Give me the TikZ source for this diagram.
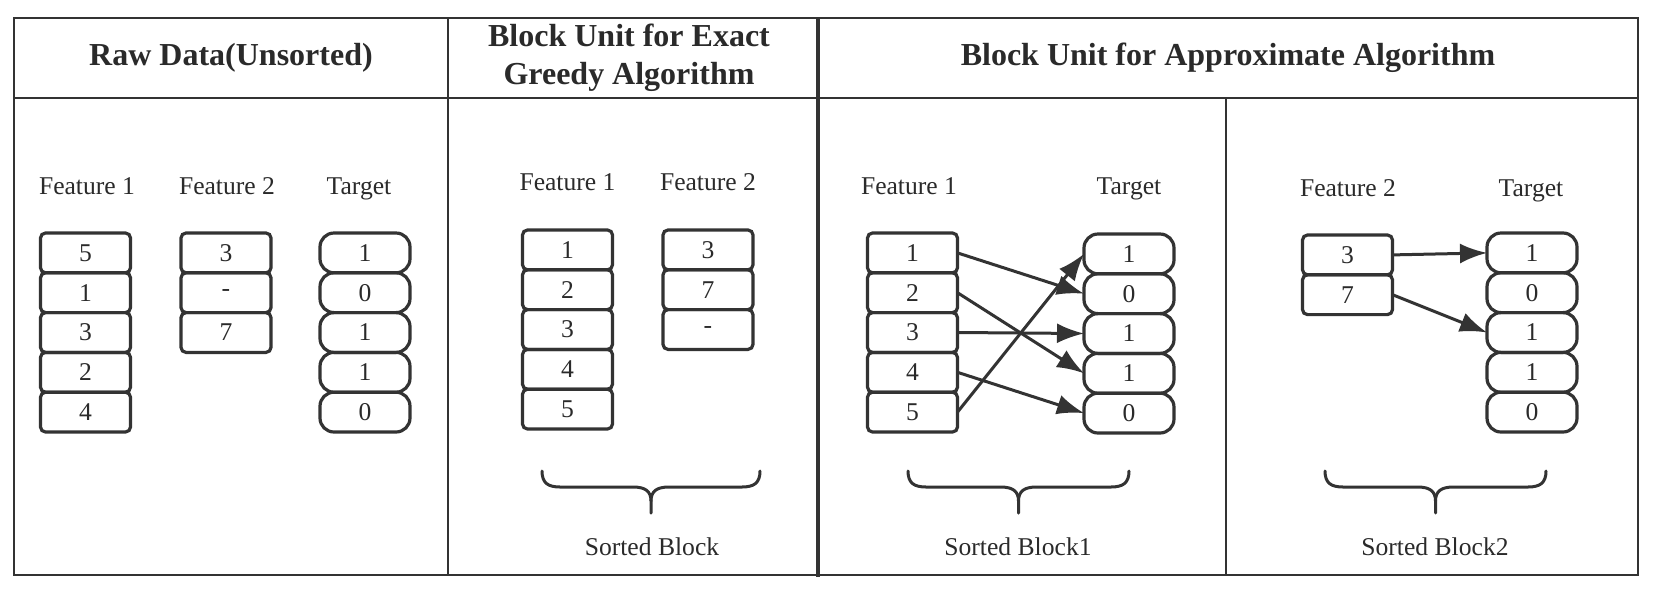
\documentclass[tikz,border=0pt]{standalone}
\usepackage{fontspec}
\setmainfont{Liberation Serif}
\usetikzlibrary{arrows.meta}
\definecolor{ink}{HTML}{333333}
\definecolor{txt}{HTML}{2A2A2A}
\begin{document}
\begin{tikzpicture}[x=0.5pt,y=-0.5pt,
  frame/.style={draw=ink,line width=1.4pt},
  fcell/.style={draw=ink,line width=1.6pt,rounded corners=2.5pt,minimum width=45pt,minimum height=19.9pt,inner sep=0pt,outer sep=0pt,font=\fontsize{12.8}{15}\selectfont,text=txt},
  tcell/.style={fcell,rounded corners=7pt},
  lab/.style={font=\fontsize{12.8}{15}\selectfont,text=txt,inner sep=0pt,anchor=base},
  head/.style={font=\fontsize{16}{19}\selectfont\bfseries,text=txt,align=center,inner sep=0pt},
  conn/.style={draw=ink,line width=1.5pt,-{Latex[length=13.5pt,width=10pt]}},
  bracepath/.style={draw=ink,line width=1.5pt,line cap=round}]
\useasboundingbox (0,0) rectangle (1660,596);
% frame
\draw[frame] (14,18) rectangle (1638,575);
\draw[frame] (14,98) -- (1638,98);
\draw[frame] (448,18) -- (448,575);
\draw[frame,line width=1.8pt] (818,18) -- (818,577);
\draw[frame] (1226,98) -- (1226,575);
% headers
\node[head] (h1) at (231,58) {Raw Data(Unsorted)};
\node[head] (h2) at (629,58) {Block Unit for Exact\\Greedy Algorithm};
\node[head] (h3) at (1228,58) {Block Unit for Approximate Algorithm};
% panel 1
\node[lab] (l1a) at (87,194) {Feature 1};
\node[lab] (l1b) at (227,194) {Feature 2};
\node[lab] (l1c) at (359,194) {Target};
\foreach \v [count=\i] in {5,1,3,2,4}
  \node[fcell] (pa-\i) at (85.5,{252.9+(\i-1)*39.8}) {\v};
\foreach \v [count=\i] in {3,-,7}
  \node[fcell] (pb-\i) at (226,{252.9+(\i-1)*39.8}) {\v};
\foreach \v [count=\i] in {1,0,1,1,0}
  \node[tcell] (pc-\i) at (365,{252.9+(\i-1)*39.8}) {\v};
% panel 2
\node[lab] (l2a) at (567.5,190) {Feature 1};
\node[lab] (l2b) at (708,190) {Feature 2};
\foreach \v [count=\i] in {1,2,3,4,5}
  \node[fcell] (qa-\i) at (567.5,{249.9+(\i-1)*39.8}) {\v};
\foreach \v [count=\i] in {3,7,-}
  \node[fcell] (qb-\i) at (708,{249.9+(\i-1)*39.8}) {\v};
% panel 3
\node[lab] (l3a) at (909,194) {Feature 1};
\node[lab] (l3b) at (1129,194) {Target};
\foreach \v [count=\i] in {1,2,3,4,5}
  \node[fcell] (ra-\i) at (912.5,{252.9+(\i-1)*39.8}) {\v};
\foreach \v [count=\i] in {1,0,1,1,0}
  \node[tcell] (rb-\i) at (1129,{253.9+(\i-1)*39.8}) {\v};
\draw[conn] (ra-1.east) -- (rb-2.west);
\draw[conn] (ra-2.east) -- (rb-4.west);
\draw[conn] (ra-3.east) -- (rb-3.west);
\draw[conn] (ra-4.east) -- (rb-5.west);
\draw[conn] (ra-5.east) -- (rb-1.west);
% panel 4
\node[lab] (l4a) at (1348,196) {Feature 2};
\node[lab] (l4b) at (1531,196) {Target};
\foreach \v [count=\i] in {3,7}
  \node[fcell] (sa-\i) at (1347.5,{254.9+(\i-1)*39.8}) {\v};
\foreach \v [count=\i] in {1,0,1,1,0}
  \node[tcell] (sb-\i) at (1532,{252.9+(\i-1)*39.8}) {\v};
\draw[conn] (sa-1.east) -- (sb-1.west);
\draw[conn] (sa-2.east) -- (sb-3.west);
% braces
\foreach \xa/\xb in {542/760, 908/1129, 1325/1546}{
  \pgfmathsetmacro\xm{(\xa+\xb)/2}
  \draw[bracepath] (\xa,471) .. controls (\xa,483) and (\xa+6,487) .. (\xa+18,487) -- (\xm-18,487) .. controls (\xm-6,487) and (\xm,491) .. (\xm,501) -- (\xm,513);
  \draw[bracepath] (\xb,471) .. controls (\xb,483) and (\xb-6,487) .. (\xb-18,487) -- (\xm+18,487) .. controls (\xm+6,487) and (\xm,491) .. (\xm,501);
}
\node[lab] (b1) at (652,555) {Sorted Block};
\node[lab] (b2) at (1018,555) {Sorted Block1};
\node[lab] (b3) at (1435,555) {Sorted Block2};
\end{tikzpicture}
\end{document}
